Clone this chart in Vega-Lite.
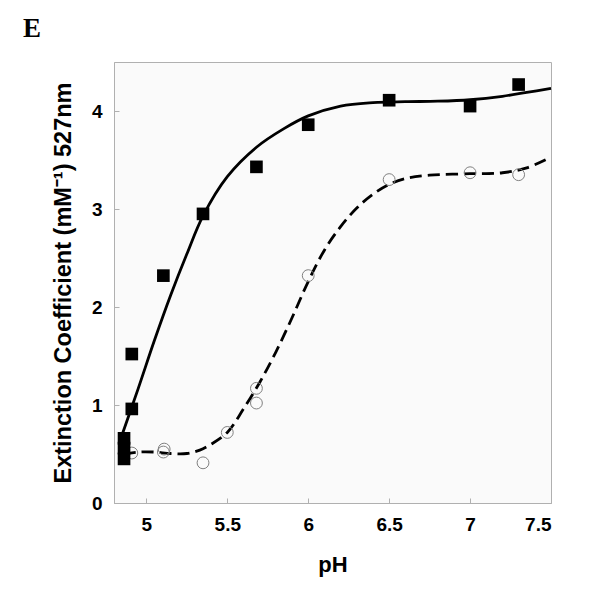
{
  "$schema": "https://vega.github.io/schema/vega-lite/v6.json",
  "width": 437,
  "height": 441,
  "autosize": {"type": "none"},
  "padding": {"left": 114, "top": 62, "right": 49, "bottom": 97},
  "background": "#ffffff",
  "title": {"text": "E", "anchor": "start", "frame": "group", "dx": -91, "offset": 19, "font": "Liberation Serif", "fontSize": 27, "fontWeight": "bold", "color": "#000000"},
  "config": {
    "view": {"stroke": "#b0b0b0", "strokeWidth": 1, "fill": "#fafafa"},
    "axis": {"grid": false, "domainColor": "#b0b0b0", "tickColor": "#b0b0b0", "labelFont": "Liberation Sans", "labelFontWeight": "bold", "labelFontSize": 19, "labelColor": "#000000", "titleFont": "Liberation Sans", "titleFontWeight": "bold", "titleColor": "#000000"}
  },
  "datasets": {
    "fitA": [
      {"pH": 4.855, "value": 0.72}, {"pH": 4.95, "value": 1.17}, {"pH": 5.05, "value": 1.66}, {"pH": 5.15, "value": 2.12},
      {"pH": 5.25, "value": 2.54}, {"pH": 5.35, "value": 2.93}, {"pH": 5.5, "value": 3.33}, {"pH": 5.68, "value": 3.63},
      {"pH": 5.85, "value": 3.82}, {"pH": 6.0, "value": 3.95}, {"pH": 6.2, "value": 4.05}, {"pH": 6.4, "value": 4.085},
      {"pH": 6.6, "value": 4.095}, {"pH": 6.8, "value": 4.1}, {"pH": 7.0, "value": 4.115}, {"pH": 7.2, "value": 4.15},
      {"pH": 7.35, "value": 4.19}, {"pH": 7.5, "value": 4.23}
    ],
    "fitB": [
      {"pH": 4.86, "value": 0.5}, {"pH": 4.95, "value": 0.52}, {"pH": 5.05, "value": 0.52}, {"pH": 5.15, "value": 0.505},
      {"pH": 5.25, "value": 0.505}, {"pH": 5.33, "value": 0.54}, {"pH": 5.4, "value": 0.6}, {"pH": 5.5, "value": 0.72},
      {"pH": 5.6, "value": 0.96}, {"pH": 5.7, "value": 1.23}, {"pH": 5.8, "value": 1.54}, {"pH": 5.9, "value": 1.89},
      {"pH": 6.0, "value": 2.26}, {"pH": 6.1, "value": 2.58}, {"pH": 6.2, "value": 2.82}, {"pH": 6.3, "value": 3.01},
      {"pH": 6.4, "value": 3.15}, {"pH": 6.5, "value": 3.25}, {"pH": 6.6, "value": 3.31}, {"pH": 6.75, "value": 3.345},
      {"pH": 7.0, "value": 3.36}, {"pH": 7.2, "value": 3.37}, {"pH": 7.35, "value": 3.42}, {"pH": 7.5, "value": 3.53}
    ],
    "squares": [
      {"pH": 4.862, "value": 0.45}, {"pH": 4.862, "value": 0.56}, {"pH": 4.862, "value": 0.66}, {"pH": 4.91, "value": 0.96},
      {"pH": 4.91, "value": 1.52}, {"pH": 5.105, "value": 2.32}, {"pH": 5.35, "value": 2.95}, {"pH": 5.68, "value": 3.43},
      {"pH": 6.0, "value": 3.86}, {"pH": 6.5, "value": 4.11}, {"pH": 7.0, "value": 4.05}, {"pH": 7.3, "value": 4.27}
    ],
    "circles": [
      {"pH": 4.91, "value": 0.51}, {"pH": 5.105, "value": 0.52}, {"pH": 5.11, "value": 0.55}, {"pH": 5.35, "value": 0.41},
      {"pH": 5.5, "value": 0.72}, {"pH": 5.68, "value": 1.17}, {"pH": 5.68, "value": 1.02}, {"pH": 6.0, "value": 2.32},
      {"pH": 6.5, "value": 3.3}, {"pH": 7.0, "value": 3.37}, {"pH": 7.3, "value": 3.35}
    ]
  },
  "encoding": {
    "x": {"field": "pH", "type": "quantitative", "scale": {"domain": [4.8, 7.5], "nice": false, "zero": false},
      "axis": {"title": "pH", "values": [5, 5.5, 6, 6.5, 7, 7.5], "format": "~g", "tickSize": -5, "labelPadding": 17, "titlePadding": 20, "titleFontSize": 22}},
    "y": {"field": "value", "type": "quantitative", "scale": {"domain": [0, 4.5], "nice": false},
      "axis": {"title": "Extinction Coefficient (mM⁻¹) 527nm", "values": [0, 1, 2, 3, 4], "tickSize": -5, "labelPadding": 17, "titlePadding": 16, "titleFontSize": 23.5}}
  },
  "layer": [
    {"data": {"name": "fitA"}, "mark": {"type": "line", "interpolate": "catmull-rom", "color": "#000000", "strokeWidth": 2.8}},
    {"data": {"name": "fitB"}, "mark": {"type": "line", "interpolate": "catmull-rom", "color": "#000000", "strokeWidth": 2.8, "strokeDash": [12, 6]}},
    {"data": {"name": "circles"}, "mark": {"type": "point", "shape": "circle", "filled": false, "fill": "none", "stroke": "#808080", "strokeWidth": 1, "size": 140, "opacity": 1}},
    {"data": {"name": "squares"}, "mark": {"type": "square", "color": "#000000", "size": 160, "opacity": 1}}
  ]
}
